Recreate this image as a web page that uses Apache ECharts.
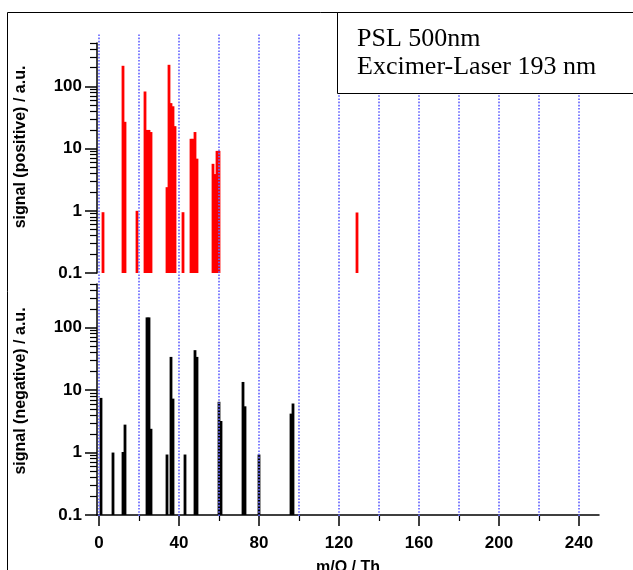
<!DOCTYPE html>
<html>
<head>
<meta charset="utf-8">
<script src="https://cdn.jsdelivr.net/npm/echarts@6/dist/echarts.min.js"></script>
<style>
html, body { margin: 0; padding: 0; background: #fff; }
#chart { width: 633px; height: 570px; }
</style>
</head>
<body>
<div id="chart"></div>
<script>
// positive ions (top panel)
var posMass = [2, 12, 13, 19, 23, 24, 25, 26, 34, 35, 36, 37, 38, 42, 46, 47, 48, 49, 57, 58, 59, 60, 129];
var posSignal = [0.95, 215, 27, 1.0, 83, 20, 20, 18.5, 2.4, 223, 54, 48, 23, 0.95, 14.4, 14.4, 18.5, 6.9, 5.7, 3.9, 9.2, 9.2, 0.94];

// negative ions (bottom panel)
var negMass = [1, 7, 12, 13, 24, 25, 26, 34, 36, 37, 43, 48, 49, 60, 61, 72, 73, 80, 96, 97];
var negSignal = [7.5, 1.0, 1.02, 2.8, 146, 146, 2.4, 0.93, 34, 7.3, 0.93, 43.6, 34, 6.5, 3.2, 13.5, 5.5, 0.93, 4.2, 6.1];

var xMajorTicks = [0, 40, 80, 120, 160, 200, 240];
var xMinorTicks = [20, 60, 100, 140, 180, 220];
var xGridLines = [0, 20, 40, 60, 80, 100, 120, 140, 160, 180, 200, 220, 240];
var yMajorTicks = [0.1, 1, 10, 100];
var yMinorTicks = [0.2, 0.3, 0.4, 0.5, 0.6, 0.7, 0.8, 0.9,
    2, 3, 4, 5, 6, 7, 8, 9,
    20, 30, 40, 50, 60, 70, 80, 90,
    200, 300, 400, 500];

var xMin = -1, xMax = 250;
var yMin = 0.1, yMax = 500;
var sans = 'Liberation Sans, Arial, sans-serif';

function zip(xs, ys) {
    return xs.map(function (x, i) { return [x, ys[i]]; });
}

function majorY(gridIndex, name, shift) {
    return {
        type: 'log',
        gridIndex: gridIndex,
        position: 'left',
        min: yMin,
        max: yMax,
        startValue: yMin,
        name: name,
        nameLocation: 'middle',
        nameRotate: 90,
        nameGap: 68,
        nameTextStyle: {
            fontFamily: sans,
            fontSize: 16,
            fontWeight: 'bold',
            color: '#000',
            padding: [0, 0, 0, shift]
        },
        axisLine: {show: true, onZero: false, lineStyle: {color: '#000', width: 1.5}},
        axisTick: {show: true, length: 12, customValues: yMajorTicks, lineStyle: {color: '#000', width: 1.5}},
        axisLabel: {
            customValues: yMajorTicks,
            margin: 15,
            fontFamily: sans,
            fontSize: 17,
            fontWeight: 'bold',
            color: '#000',
            formatter: function (v) { return String(v); }
        },
        splitLine: {show: false}
    };
}

function minorY(gridIndex) {
    return {
        type: 'log',
        gridIndex: gridIndex,
        position: 'left',
        min: yMin,
        max: yMax,
        axisLine: {show: false, onZero: false},
        axisTick: {show: true, length: 7, customValues: yMinorTicks, lineStyle: {color: '#000', width: 1.2}},
        axisLabel: {show: false},
        splitLine: {show: false}
    };
}

var chart = echarts.init(document.getElementById('chart'));

chart.setOption({
    animation: false,
    backgroundColor: '#fff',
    graphic: [
        {
            type: 'rect',
            silent: true,
            z: -10,
            shape: {x: 7.5, y: 12.5, width: 900, height: 900},
            style: {fill: 'none', stroke: '#000', lineWidth: 1}
        }
    ],
    title: {
        text: 'PSL 500nm\nExcimer-Laser 193 nm',
        left: 337,
        top: 12,
        padding: [13, 70, 13, 20],
        borderColor: '#000',
        borderWidth: 1,
        backgroundColor: '#fff',
        textStyle: {
            fontFamily: 'Liberation Serif, Times New Roman, serif',
            fontSize: 26,
            fontWeight: 'normal',
            lineHeight: 28,
            color: '#000'
        }
    },
    grid: [
        {left: 97, top: 43, width: 502, height: 230, outerBoundsMode: 'none'},
        {left: 97, top: 284, width: 502, height: 231, outerBoundsMode: 'none'},
        {left: 97, top: 33, width: 502, height: 483, outerBoundsMode: 'none'}
    ],
    xAxis: [
        {type: 'value', gridIndex: 0, min: xMin, max: xMax, show: false},
        {
            type: 'value',
            gridIndex: 1,
            position: 'bottom',
            min: xMin,
            max: xMax,
            name: 'm/Q / Th',
            nameLocation: 'middle',
            nameGap: 45,
            nameTextStyle: {fontFamily: sans, fontSize: 16, fontWeight: 'bold', color: '#000'},
            axisLine: {show: true, onZero: false, lineStyle: {color: '#000', width: 1.5}},
            axisTick: {show: true, length: 11, customValues: xMajorTicks, lineStyle: {color: '#000', width: 1.5}},
            axisLabel: {
                customValues: xMajorTicks,
                margin: 20,
                fontFamily: sans,
                fontSize: 17,
                fontWeight: 'bold',
                color: '#000'
            },
            splitLine: {show: false}
        },
        {
            type: 'value',
            gridIndex: 1,
            position: 'bottom',
            min: xMin,
            max: xMax,
            axisLine: {show: false, onZero: false},
            axisTick: {show: true, length: 6, customValues: xMinorTicks, lineStyle: {color: '#000', width: 1.2}},
            axisLabel: {show: false},
            splitLine: {show: false}
        },
        {
            type: 'value',
            gridIndex: 2,
            min: xMin,
            max: xMax,
            show: false
        }
    ],
    yAxis: [
        majorY(0, 'signal (positive) / a.u.', 22),
        minorY(0),
        majorY(1, 'signal (negative) / a.u.', 17),
        minorY(1),
        {type: 'value', gridIndex: 2, min: 0, max: 1, show: false}
    ],
    series: [
        {
            // dotted vertical grid lines across both panels
            type: 'line',
            xAxisIndex: 3,
            yAxisIndex: 4,
            data: [],
            silent: true,
            z: 0,
            markLine: {
                silent: true,
                symbol: ['none', 'none'],
                label: {show: false},
                lineStyle: {color: '#6a6aff', type: [1.6, 1.6], width: 1.7, opacity: 1},
                emphasis: {disabled: true},
                data: xGridLines.map(function (v) { return {xAxis: v}; })
            }
        },
        {
            type: 'bar',
            xAxisIndex: 0,
            yAxisIndex: 0,
            barWidth: 2.8,
            itemStyle: {color: '#ff0000'},
            data: zip(posMass, posSignal)
        },
        {
            type: 'bar',
            xAxisIndex: 1,
            yAxisIndex: 2,
            barWidth: 2.8,
            itemStyle: {color: '#000000'},
            data: zip(negMass, negSignal)
        }
    ]
});
</script>
</body>
</html>
